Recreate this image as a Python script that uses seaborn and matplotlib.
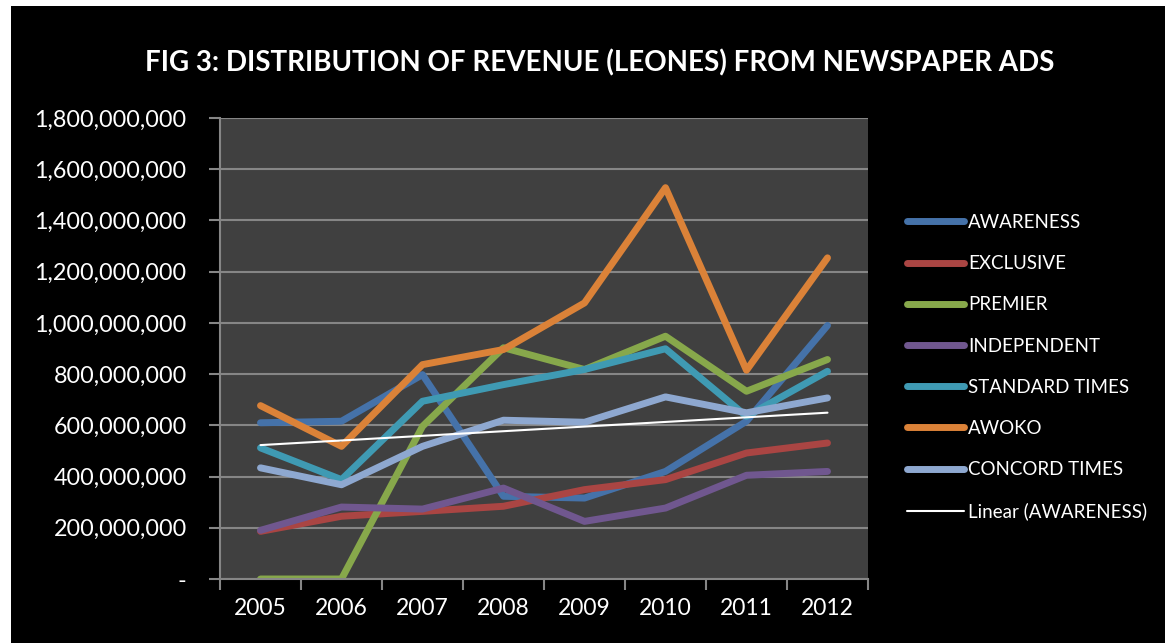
import numpy as np
import pandas as pd
import matplotlib
matplotlib.use("Agg")
import matplotlib.pyplot as plt
import seaborn as sns
from matplotlib.patches import Rectangle
from matplotlib.ticker import FuncFormatter, FixedLocator

years = ["2005", "2006", "2007", "2008", "2009", "2010", "2011", "2012"]
awareness = [610e6, 616e6, 798e6, 323e6, 316e6, 420e6, 616e6, 990e6]
exclusive = [186e6, 245e6, 264e6, 284e6, 349e6, 388e6, 492e6, 531e6]
premier = [0, 0, 596e6, 903e6, 818e6, 948e6, 733e6, 857e6]
independent = [190e6, 281e6, 273e6, 355e6, 225e6, 277e6, 405e6, 420e6]
standard_times = [512e6, 388e6, 694e6, 759e6, 818e6, 899e6, 635e6, 811e6]
awoko = [677e6, 518e6, 837e6, 896e6, 1078e6, 1528e6, 815e6, 1254e6]
concord_times = [434e6, 368e6, 518e6, 620e6, 612e6, 711e6, 649e6, 707e6]

series_names = ["AWARENESS", "EXCLUSIVE", "PREMIER", "INDEPENDENT",
                "STANDARD TIMES", "AWOKO", "CONCORD TIMES"]
series_values = [awareness, exclusive, premier, independent,
                 standard_times, awoko, concord_times]
colors = ["#4572A9", "#AA4543", "#87A84B", "#70578F", "#3F9AB3", "#DB8238", "#8EA8D0"]

rows = []
for name, vals in zip(series_names, series_values):
    for i, (yr, v) in enumerate(zip(years, vals)):
        rows.append({"idx": i, "Year": yr, "Revenue": v, "Paper": name})
df = pd.DataFrame(rows)

sns.set_theme(style="dark")
plt.rcParams["font.family"] = ["Lato", "DejaVu Sans"]

fig = plt.figure(figsize=(11.65, 6.43), dpi=100, facecolor="white")
# black chart area (white strip on left and top as in reference)
fig.patches.append(Rectangle((11 / 1165, 0), 1 - 11 / 1165, 1 - 6 / 643,
                             transform=fig.transFigure, facecolor="black",
                             edgecolor="none", zorder=-10))

ax = fig.add_axes([220 / 1165, 1 - 579 / 643, (868 - 220) / 1165, (579 - 118) / 643])
ax.set_facecolor("#404040")

sns.lineplot(data=df, x="idx", y="Revenue", hue="Paper", hue_order=series_names,
             palette=colors, linewidth=5.0, sort=False, ax=ax,
             solid_capstyle="round", solid_joinstyle="round")

# Linear trendline for AWARENESS
xi = np.arange(len(years))
coef = np.polyfit(xi, awareness, 1)
trend = np.polyval(coef, xi)
sns.lineplot(x=xi, y=trend, color="white", linewidth=1.5, ax=ax,
             label="Linear (AWARENESS)")

ax.set_xlim(-0.5, len(years) - 0.5)
ax.set_ylim(0, 1.8e9)
ax.set_yticks(np.arange(0, 1.8e9 + 1, 2e8))
ax.yaxis.set_major_formatter(FuncFormatter(lambda v, p: "-" if v == 0 else f"{v:,.0f}"))
ax.grid(axis="y", color="#868686", linewidth=1.5)
ax.grid(axis="x", visible=False)
ax.set_axisbelow(True)

ax.xaxis.set_major_locator(FixedLocator(np.arange(-0.5, len(years), 1.0)))
ax.xaxis.set_minor_locator(FixedLocator(xi))
ax.set_xticklabels([], minor=False)
ax.set_xticklabels(years, minor=True)
ax.tick_params(axis="x", which="major", length=8, width=1.5, color="#868686",
               direction="out", bottom=True)
ax.tick_params(axis="x", which="minor", length=0, pad=14, labelsize=16.5,
               labelcolor="white", bottom=True)
ax.tick_params(axis="y", which="major", length=8, width=1.5, color="#868686",
               direction="out", left=True, labelsize=16.8, labelcolor="white", pad=16)

for s in ["top", "right"]:
    ax.spines[s].set_visible(False)
for s in ["left", "bottom"]:
    ax.spines[s].set_visible(True)
    ax.spines[s].set_color("#868686")
    ax.spines[s].set_linewidth(1.5)

ax.set_xlabel("")
ax.set_ylabel("")

handles, labels = ax.get_legend_handles_labels()
leg = ax.legend(handles, labels, loc="upper left",
                bbox_to_anchor=(907 / 1165, 1 - 214 / 643),
                bbox_transform=fig.transFigure, frameon=False,
                fontsize=13.5, labelcolor="white", handlelength=3.05,
                handletextpad=0.22, labelspacing=1.29, borderpad=0,
                borderaxespad=0)
for h in leg.get_lines():
    h.set_solid_capstyle("round")

fig.text(600 / 1165, 1 - 63 / 643,
         "FIG 3: DISTRIBUTION OF REVENUE (LEONES) FROM NEWSPAPER ADS",
         ha="center", va="center", color="white", fontsize=20, fontweight="bold")

fig.savefig("out.png", dpi=100, facecolor=fig.get_facecolor())
